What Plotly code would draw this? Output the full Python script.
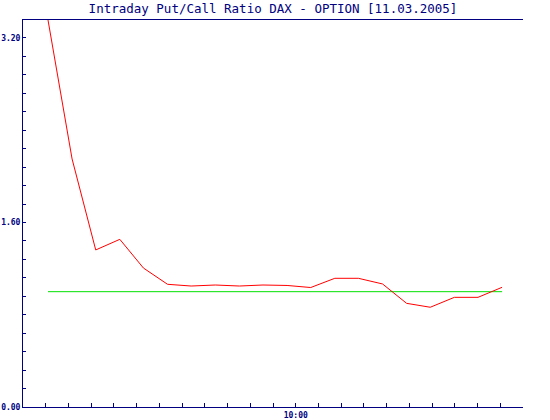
import plotly.graph_objects as go

# Time of each snapshot in minutes after 09:00
minutes = [5.5, 10.8, 16.0, 21.3, 26.5, 31.8, 37.0, 42.3, 47.6, 52.8,
           58.1, 63.3, 68.6, 73.8, 79.1, 84.4, 89.6, 94.9, 100.1, 105.4]
ratio = [3.356, 2.151, 1.362, 1.454, 1.205, 1.064, 1.049, 1.058, 1.049, 1.058,
         1.054, 1.036, 1.116, 1.116, 1.067, 0.899, 0.865, 0.951, 0.951, 1.038]
reference_level = [1.0] * len(minutes)

y_tickvals = [0, 1.6, 3.2]
y_ticktext = ["0.00", "1.60", "3.20"]
y_minor_ticks = [round(0.16 * k, 2) for k in range(1, 21)]
x_tickvals = [60]
x_ticktext = ["10:00"]
x_minor_ticks = [5 * k for k in range(1, 22)]

NAVY = "#000080"

fig = go.Figure()
fig.add_trace(go.Scatter(x=minutes, y=reference_level, mode="lines",
                         line=dict(color="#00e000", width=1), hoverinfo="skip"))
fig.add_trace(go.Scatter(x=minutes, y=ratio, mode="lines",
                         line=dict(color="#ff0000", width=1)))

fig.update_layout(
    width=550, height=420,
    margin=dict(l=23, r=27, t=20, b=13, pad=0, autoexpand=False),
    paper_bgcolor="white", plot_bgcolor="white",
    showlegend=False,
    title=dict(text="Intraday Put/Call Ratio DAX - OPTION [11.03.2005]",
               x=0.5, xref="paper", xanchor="center",
               y=1 - 9 / 420, yref="container", yanchor="middle",
               automargin=False,
               font=dict(family="DejaVu Sans Mono", size=12.5, color=NAVY)),
    xaxis=dict(range=[0, 110], showgrid=False, zeroline=False, automargin=False,
               showline=True, linecolor=NAVY, linewidth=1, mirror=True,
               tickmode="array", tickvals=x_tickvals, ticktext=x_ticktext,
               ticks="inside", ticklen=4, tickcolor=NAVY, tickwidth=1,
               tickfont=dict(family="DejaVu Sans Mono", size=8, color=NAVY,
                             weight="bold"),
               minor=dict(tickmode="array", tickvals=x_minor_ticks,
                          ticks="inside", ticklen=4, tickcolor=NAVY,
                          tickwidth=1, showgrid=False),
               fixedrange=True),
    yaxis=dict(range=[0, 3.356], showgrid=False, zeroline=False, automargin=False,
               showline=True, linecolor=NAVY, linewidth=1, mirror=False,
               tickmode="array", tickvals=y_tickvals, ticktext=y_ticktext,
               ticks="inside", ticklen=3, tickcolor=NAVY, tickwidth=1,
               tickfont=dict(family="DejaVu Sans Mono", size=8, color=NAVY,
                             weight="bold"),
               minor=dict(tickmode="array", tickvals=y_minor_ticks,
                          ticks="inside", ticklen=3,
                          tickcolor=NAVY, tickwidth=1, showgrid=False),
               fixedrange=True),
)

fig.write_html("out.html", config={"displayModeBar": False},
               post_script="document.body.style.margin='0';")
